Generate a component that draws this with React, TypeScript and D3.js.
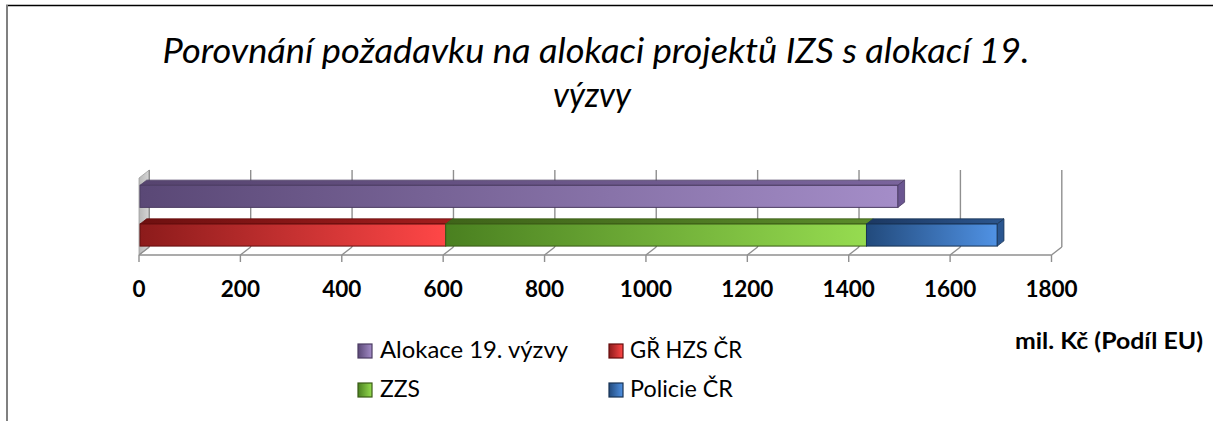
import React from "react";
import * as d3 from "d3";

// ---- data ----
const categories = ["Požadavek", "Alokace"]; // bottom -> top (category labels hidden)
const seriesNames = ["Alokace 19. výzvy", "GŘ HZS ČR", "ZZS", "Policie ČR"];
const alokace19 = [0, 1495];
const grHzsCr = [603, 0];
const zzs = [830, 0];
const policieCr = [258, 0];
const xTicks = [0, 200, 400, 600, 800, 1000, 1200, 1400, 1600, 1800];
const titleLines = ["Porovnání požadavku na alokaci projektů IZS s alokací 19.", "výzvy"];
const unitLabel = "mil. Kč (Podíl EU)";

const W = 1213;
const H = 421;

const palette = [
  { id: "pur", f0: "#5a4876", f1: "#a48dc8", t0: "#56446f", t1: "#7a649c", side: "#6a5590", stroke: "#4b3c63" },
  { id: "red", f0: "#8c1b1b", f1: "#ff4747", t0: "#6e1010", t1: "#a21d1d", side: "#a01c1c", stroke: "#650d0d" },
  { id: "grn", f0: "#4a8020", f1: "#96dc50", t0: "#3f6419", t1: "#5a8a2a", side: "#4f7f22", stroke: "#3a5b16" },
  { id: "blu", f0: "#224a7c", f1: "#5092e4", t0: "#1c3862", t1: "#2c568e", side: "#2a5690", stroke: "#183354" },
];

export default function App() {
  const x = d3.scaleLinear().domain([0, 1800]).range([139, 1051.5]);
  const frontTop = 178;
  const floorY = 255;
  const D = { x: 10.3, y: -8 }; // full depth vector
  const y = d3
    .scaleBand<string>()
    .domain([...categories].reverse())
    .range([frontTop, floorY])
    .paddingInner(0.43)
    .paddingOuter(0.21);

  const rows = categories.map((c, i) => ({
    cat: c,
    a: alokace19[i],
    g: grHzsCr[i],
    z: zzs[i],
    p: policieCr[i],
  }));
  const stack = d3.stack<any>().keys(["a", "g", "z", "p"]);
  const stacked = stack(rows);

  const zF = 0.1;
  const zB = 0.75;
  const off = (z: number) => ({ dx: D.x * z, dy: D.y * z });
  const f = off(zF);
  const b = off(zB);

  const lastIdx: Record<string, number> = {};
  stacked.forEach((s, si) => {
    s.forEach((d, ci) => {
      if (d[1] - d[0] > 0) lastIdx[categories[ci]] = si;
    });
  });

  const bars: React.ReactNode[] = [];
  stacked.forEach((s, si) => {
    const col = palette[si];
    s.forEach((d, ci) => {
      if (d[1] - d[0] <= 0) return;
      const cat = categories[ci];
      const x0 = x(d[0]) + f.dx;
      const x1 = x(d[1]) + f.dx;
      const yT = (y(cat) as number) + f.dy;
      const h = y.bandwidth();
      const bx = b.dx - f.dx;
      const by = b.dy - f.dy;
      const top = `M${x0},${yT} L${x1},${yT} L${x1 + bx},${yT + by} L${x0 + bx},${yT + by} Z`;
      bars.push(
        <g key={`${si}-${ci}`}>
          <path d={top} fill={`url(#t-${col.id})`} stroke={col.stroke} strokeWidth={0.8} />
          <rect x={x0} y={yT} width={x1 - x0} height={h} fill={`url(#f-${col.id})`} stroke={col.stroke} strokeWidth={1} />
          {lastIdx[cat] === si && (
            <path
              d={`M${x1},${yT} L${x1 + bx},${yT + by} L${x1 + bx},${yT + by + h} L${x1},${yT + h} Z`}
              fill={col.side}
              stroke={col.stroke}
              strokeWidth={0.8}
            />
          )}
        </g>
      );
    });
  });

  const grid = "#8f8f8f";
  const legendItems = [
    { name: seriesNames[0], col: palette[0], sx: 358, tx: 380, by: 358, tl: 188 },
    { name: seriesNames[1], col: palette[1], sx: 609, tx: 630, by: 358, tl: 112 },
    { name: seriesNames[2], col: palette[2], sx: 358, tx: 380, by: 397, tl: 40 },
    { name: seriesNames[3], col: palette[3], sx: 609, tx: 630, by: 397, tl: 103 },
  ];

  return (
    <div style={{ position: "absolute", left: 0, top: 0 }}>
      <svg width={W} height={H} style={{ display: "block", fontFamily: "Lato, 'Open Sans', sans-serif" }}>
        <defs>
          {palette.map((c) => (
            <React.Fragment key={c.id}>
              <linearGradient id={`f-${c.id}`} x1="0" x2="1" y1="0" y2="0">
                <stop offset="0" stopColor={c.f0} />
                <stop offset="1" stopColor={c.f1} />
              </linearGradient>
              <linearGradient id={`t-${c.id}`} x1="0" x2="1" y1="0" y2="0">
                <stop offset="0" stopColor={c.t0} />
                <stop offset="1" stopColor={c.t1} />
              </linearGradient>
            </React.Fragment>
          ))}
          <linearGradient id="wall" x1="0" x2="1" y1="0" y2="0">
            <stop offset="0" stopColor="#b8b8b8" />
            <stop offset="1" stopColor="#d6d6d6" />
          </linearGradient>
        </defs>
        <rect x={0} y={0} width={W} height={H} fill="#fff" />
        {/* chart frame */}
        <line x1={6} y1={5.5} x2={W} y2={5.5} stroke="#000" strokeWidth={1.3} />
        <line x1={7} y1={5} x2={7} y2={H} stroke="#808080" strokeWidth={2} />

        {/* title */}
        <text x={596} y={63} textAnchor="middle" fontStyle="italic" fontSize={34} fill="#000" textLength={867} lengthAdjust="spacingAndGlyphs">
          {titleLines[0]}
        </text>
        <text x={592} y={107} textAnchor="middle" fontStyle="italic" fontSize={34} fill="#000" textLength={78} lengthAdjust="spacingAndGlyphs">
          {titleLines[1]}
        </text>

        {/* left wall */}
        <path
          d={`M${x(0)},${floorY} L${x(0) + D.x},${floorY + D.y} L${x(0) + D.x},${frontTop + D.y} L${x(0)},${frontTop} Z`}
          fill="url(#wall)"
          stroke="#a0a0a0"
          strokeWidth={0.8}
        />

        {/* back wall gridlines + floor diagonals + front ticks */}
        {xTicks.map((t) => (
          <g key={t}>
            <line x1={x(t) + D.x} y1={frontTop + D.y} x2={x(t) + D.x} y2={floorY + D.y} stroke={grid} strokeWidth={1.4} />
            <line x1={x(t)} y1={floorY} x2={x(t) + D.x} y2={floorY + D.y} stroke={grid} strokeWidth={1.4} />
            <line x1={x(t)} y1={floorY} x2={x(t)} y2={floorY + 7} stroke={grid} strokeWidth={1.4} />
          </g>
        ))}
        <line x1={x(0)} y1={floorY} x2={x(1800)} y2={floorY} stroke={grid} strokeWidth={1.4} />

        {/* bars */}
        {bars}

        {/* tick labels */}
        {xTicks.map((t) => (
          <text key={t} x={x(t)} y={297} textAnchor="middle" fontWeight="bold" fontSize={22.5} fill="#000">
            {t}
          </text>
        ))}

        {/* unit label */}
        <text x={1203} y={349} textAnchor="end" fontWeight="bold" fontSize={22} fill="#000" textLength={188} lengthAdjust="spacingAndGlyphs">
          {unitLabel}
        </text>

        {/* legend */}
        {legendItems.map((l) => (
          <g key={l.name}>
            <rect x={l.sx} y={l.by - 14} width={14} height={14} fill={`url(#f-${l.col.id})`} stroke={l.col.stroke} strokeWidth={1.2} />
            <text x={l.tx} y={l.by} fontSize={24} fill="#000" textLength={l.tl} lengthAdjust="spacingAndGlyphs">
              {l.name}
            </text>
          </g>
        ))}
      </svg>
    </div>
  );
}
